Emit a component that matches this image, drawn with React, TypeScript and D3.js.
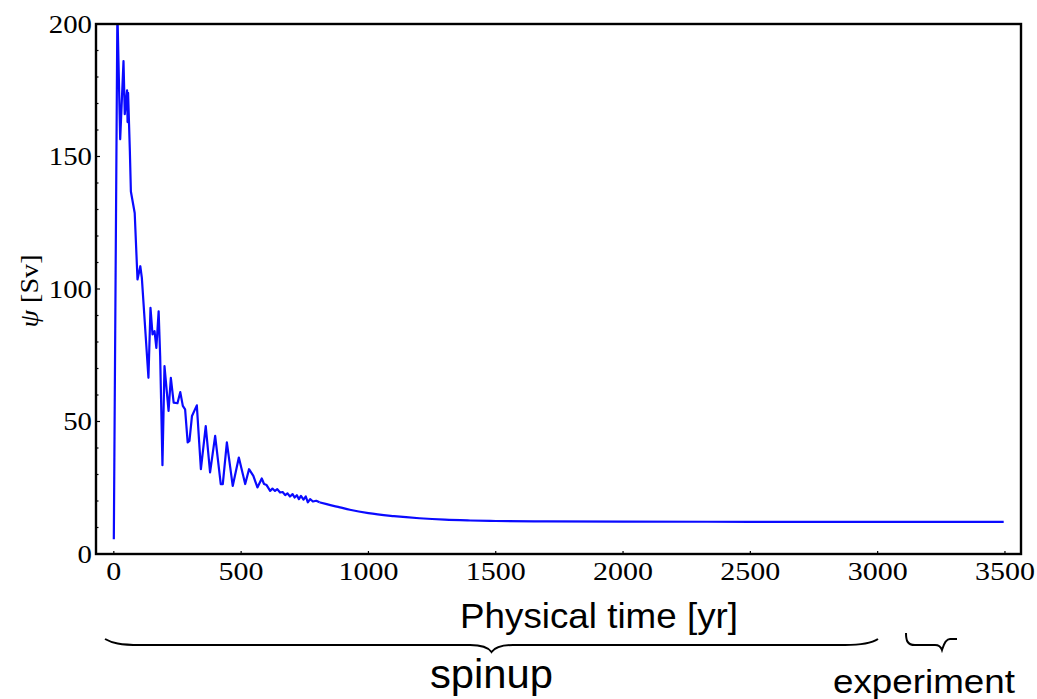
import React from "react";
import * as d3 from "d3";

// Physical time [yr]
const times = [
  0, 14, 25, 38, 43, 52, 54, 56, 63, 67, 82, 93, 104, 110, 136, 144, 152, 160, 167, 176,
  182, 191, 199, 215, 224, 235, 250, 261, 271, 280, 290, 297, 307, 326, 342, 361, 378, 398,
  420, 428, 444, 467, 491, 516, 531, 548, 564, 581, 590, 600, 614, 623, 633, 642, 653, 663,
  673, 682, 692, 702, 710, 719, 727, 735, 745, 754, 762, 771, 782, 795, 808, 836, 888, 927,
  1000, 1100, 1200, 1300, 1400, 1500, 1700, 2000, 2500, 3000, 3495,
];
// Overturning psi [Sv]
const psi = [
  5.6, 205, 156.5, 186, 166, 175, 163, 174, 152, 136.8, 128.7, 103.6, 108.6, 104.3, 66.5, 92.9, 82.9, 84.1, 77.8, 91.6,
  74.7, 33.5, 70.9, 54, 66.5, 57.1, 56.9, 61.1, 55.9, 54.6, 42.1, 42.7, 52.1, 56.1, 32, 48.3, 30.8, 44.6,
  26.4, 26.4, 42.1, 25.7, 36.4, 26.4, 32, 29.5, 25.1, 28.5, 26.4, 26, 23.8, 24.7, 23.8, 24.5, 23.2, 23.4,
  22.2, 22.9, 21.7, 22.6, 21.3, 22.2, 20.7, 21.9, 20.5, 21.7, 19.5, 20.7, 19.8, 20.1, 19.5, 18.8, 17.6, 16.7,
  15.4, 14.3, 13.5, 12.95, 12.65, 12.45, 12.3, 12.2, 12.15, 12.1, 12.1,
];

const xTicks = [0, 500, 1000, 1500, 2000, 2500, 3000, 3500];
const yTicks = [0, 50, 100, 150, 200];
const yMinorTicks = d3.range(0, 201, 10);

const xLabel = "Physical time [yr]";
const yLabel = "[Sv]";
const spinupLabel = "spinup";
const experimentLabel = "experiment";

export default function App() {
  const L = 96, R = 1021, T = 24, B = 554;
  const x = d3.scaleLinear().domain([-70, 3563]).range([L, R]);
  const y = d3.scaleLinear().domain([0, 200]).range([B, T]);
  const pts = times.map((t, i) => [t, psi[i]] as [number, number]);
  const splitAt = times.indexOf(808);
  const head = pts.slice(0, splitAt + 1);
  const tail = pts.slice(splitAt);
  const lineLin = d3.line<[number, number]>().x((d) => x(d[0])).y((d) => y(d[1]));
  const lineSmooth = d3.line<[number, number]>().x((d) => x(d[0])).y((d) => y(d[1])).curve(d3.curveMonotoneX);

  const serif = "'Liberation Serif', 'Times New Roman', serif";
  const sans = "'Liberation Sans', Arial, sans-serif";

  const brace1 = `M105,639 C112,643 120,645 140,645 L470,645 C482,645 488,647 491.5,652 C495,647 501,645 513,645 L845,645 C862,645 872,643 878,639`;
  const brace2 = `M906,633 C906,640 907,645 915,645 L935,645 C939,645 941,647 942,650 C943,647 945,639 950,639 L957,639`;

  return (
    <svg width={1037} height={699} style={{ position: "absolute", left: 0, top: 0, background: "#fff" }}>
      <defs>
        <clipPath id="plotclip">
          <rect x={L} y={T} width={R - L} height={B - T} />
        </clipPath>
      </defs>
      <rect x={0} y={0} width={1037} height={699} fill="#fff" />
      {yMinorTicks.map((v) => (
        <line key={"ym" + v} x1={L} x2={L + (v % 50 === 0 ? 4 : 2.5)} y1={y(v)} y2={y(v)} stroke="#000" strokeWidth={1.2} />
      ))}
      {xTicks.map((v) => (
        <line key={"xt" + v} x1={x(v)} x2={x(v)} y1={B} y2={B - 3} stroke="#000" strokeWidth={1.2} />
      ))}
      <g clipPath="url(#plotclip)" fill="none" stroke="#0a0aff" strokeWidth={2.2} strokeLinejoin="round">
        <path d={lineLin(head) || ""} />
        <path d={lineSmooth(tail) || ""} />
      </g>
      <rect x={L} y={T} width={R - L} height={B - T} fill="none" stroke="#000" strokeWidth={2.4} />
      {yTicks.map((v) => (
        <text key={"yl" + v} x={92} y={y(v) + 8.5} textAnchor="end" fontFamily={serif} fontSize={25}
          textLength={String(v).length * 14.4} lengthAdjust="spacingAndGlyphs">{v}</text>
      ))}
      {xTicks.map((v) => (
        <text key={"xl" + v} x={x(v)} y={580} textAnchor="middle" fontFamily={serif} fontSize={25}
          textLength={String(v).length * 15} lengthAdjust="spacingAndGlyphs">{v}</text>
      ))}
      <text transform="translate(38,291) rotate(-90)" textAnchor="middle" fontFamily={serif} fontSize={26}
        textLength={73} lengthAdjust="spacingAndGlyphs">
        <tspan fontStyle="italic">ψ</tspan> {yLabel}
      </text>
      <text x={599} y={628} textAnchor="middle" fontFamily={sans} fontSize={35}
        textLength={278} lengthAdjust="spacingAndGlyphs">{xLabel}</text>
      <path d={brace1} fill="none" stroke="#000" strokeWidth={2} />
      <path d={brace2} fill="none" stroke="#000" strokeWidth={2} />
      <text x={491.5} y={688} textAnchor="middle" fontFamily={sans} fontSize={40}
        textLength={123} lengthAdjust="spacingAndGlyphs">{spinupLabel}</text>
      <text x={924} y={693} textAnchor="middle" fontFamily={sans} fontSize={34}
        textLength={182} lengthAdjust="spacingAndGlyphs">{experimentLabel}</text>
    </svg>
  );
}
